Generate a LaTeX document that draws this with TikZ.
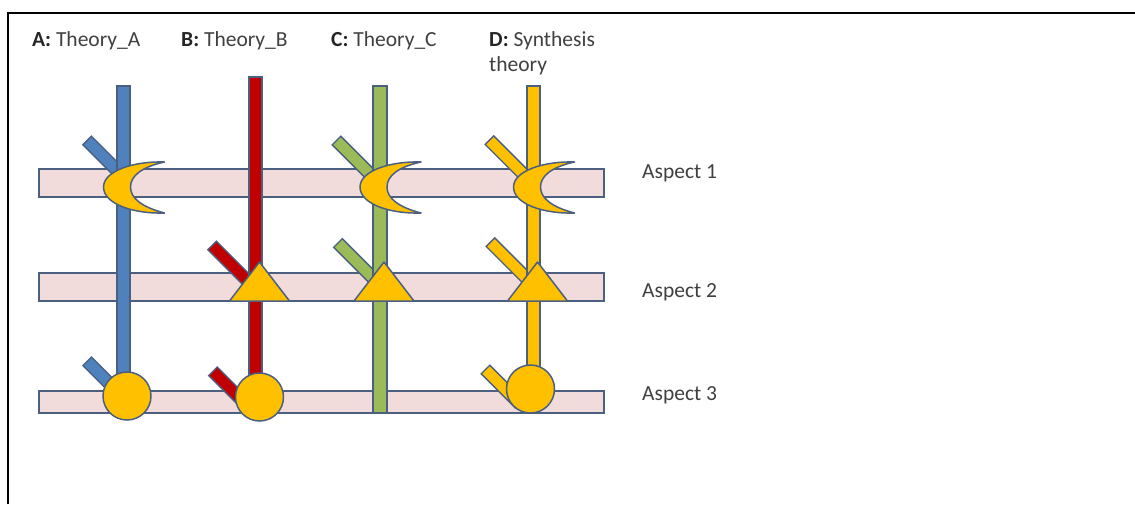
\documentclass[tikz,border=0pt]{standalone}
\usepackage{fontspec}
\setmainfont{Carlito}
\definecolor{tblue}{HTML}{4F81BD}
\definecolor{tred}{HTML}{C00000}
\definecolor{tgreen}{HTML}{9BBB59}
\definecolor{tgold}{HTML}{FFC000}
\definecolor{tpink}{HTML}{F2DCDB}
\definecolor{tedge}{HTML}{4B5F80}
\definecolor{ttext}{HTML}{404040}
\tikzset{
  aspectbar/.style={fill=tpink, draw=tedge, line width=1.6pt},
  stem/.style={draw=tedge, line width=1.4pt},
  marker/.style={fill=tgold, draw=tedge, line width=1.5pt, line join=round},
  lbl/.style={anchor=base west, inner sep=0pt, text=ttext, font=\fontsize{21.5}{26}\selectfont},
}
\newcommand{\stubline}[5]{%
  \draw[tedge, line width=13.5pt] (#1,#2) -- (#3,#4);
  \draw[#5, line width=10.5pt, shorten <=1.5pt, shorten >=1.5pt] (#1,#2) -- (#3,#4);}
\newcommand{\crescent}[1]{%
  \path[marker] ({#1+41},162) .. controls ({#1+10},161) and ({#1-20},171) .. ({#1-20},187)
    .. controls ({#1-20},204) and ({#1+10},214) .. ({#1+41},213)
    .. controls ({#1+18},207) and ({#1+7},198) .. ({#1+7},187)
    .. controls ({#1+7},176) and ({#1+18},167) .. cycle;}
\newcommand{\tri}[1]{%
  \path[marker] ({#1+4},262) -- ({#1+34},301) -- ({#1-26},301) -- cycle;}
\begin{document}
\begin{tikzpicture}[x=1pt, y=-1pt]
\useasboundingbox (0,0) rectangle (1135,504);
\fill[white] (0,0) rectangle (1135,504);
% frame
\draw[black, line width=2.6pt] (8,504) -- (8,13) -- (1135,13);
% aspect bars
\path[aspectbar] (39,169) rectangle (604,197);
\path[aspectbar] (39,273) rectangle (604,301);
\path[aspectbar] (39,391) rectangle (604,413);
% stubs
\stubline{86.7}{140}{123.5}{176.8}{tblue}
\stubline{336}{140}{380}{184}{tgreen}
\stubline{489}{139.7}{533.5}{184.2}{tgold}
\stubline{211.7}{245}{255.5}{288.8}{tred}
\stubline{337.5}{242.5}{380}{285}{tgreen}
\stubline{490}{241.7}{533.5}{285.2}{tgold}
\stubline{86.7}{360.8}{123.5}{397.6}{tblue}
\stubline{212.5}{370.8}{255.5}{413.8}{tred}
\stubline{485}{369}{520}{404}{tgold}
% verticals
\path[stem, fill=tblue] (117,86) rectangle (130,396);
\path[stem, fill=tred] (249,77) rectangle (262,397);
\path[stem, fill=tgreen] (373,86) rectangle (387,413);
\path[stem, fill=tgold] (527,86) rectangle (540,389);
% crescents (aspect 1)
\crescent{123.5}
\crescent{380}
\crescent{533.5}
% triangles (aspect 2)
\tri{255.5}
\tri{380}
\tri{533.5}
% circles (aspect 3)
\path[marker] (127,396) circle (24);
\path[marker] (259.5,397) circle (24);
\path[marker] (530.5,389) circle (24);
% labels
\node[lbl] (la) at (32,46) {\textcolor{black!85}{\textbf{A:}} Theory\_A};
\node[lbl] (lb) at (181,46) {\textcolor{black!85}{\textbf{B:}} Theory\_B};
\node[lbl] (lc) at (331,46) {\textcolor{black!85}{\textbf{C:}} Theory\_C};
\node[lbl] (ld) at (489,46) {\textcolor{black!85}{\textbf{D:}} Synthesis};
\node[lbl] (ld2) at (489,71) {theory};
\node[lbl] (a1) at (642,178) {Aspect 1};
\node[lbl] (a2) at (642,297) {Aspect 2};
\node[lbl] (a3) at (642,400) {Aspect 3};
\end{tikzpicture}
\end{document}
